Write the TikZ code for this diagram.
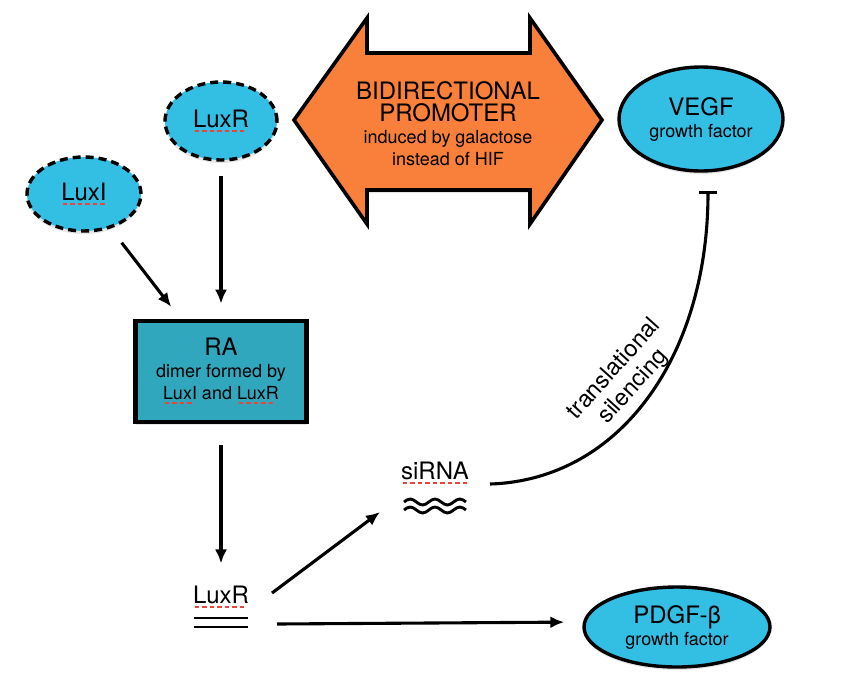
\documentclass[tikz,border=0pt]{standalone}
\usepackage{fontspec}
\setmainfont{TeX Gyre Heros}
\usetikzlibrary{arrows.meta}
\usetikzlibrary{shapes.geometric}
\usetikzlibrary{shadows}
\usetikzlibrary{positioning}
\definecolor{cellblue}{HTML}{33BEE3}
\definecolor{dimerteal}{HTML}{31A7BD}
\definecolor{promorange}{HTML}{F9803A}
\definecolor{spellred}{HTML}{E8453C}
\newcommand{\bigtext}[1]{{\fontsize{24}{28}\selectfont #1}}
\newcommand{\spellmark}[1]{\setbox0=\hbox{#1}\rlap{\color{spellred}\raisebox{-4.5pt}{\hbox to \wd0{\leaders\hbox to 7.5pt{\hss\vrule width 4.5pt height 2pt depth 0pt\hss}\hfill}}}\box0\relax}
\begin{document}
\begin{tikzpicture}[x=1pt,y=-1pt,>={Latex[length=14pt,width=12pt]},
		every node/.style={font=\fontsize{18}{22}\selectfont},
		factor/.style={draw=black,
				ellipse,
				line width=3.4pt,
				fill=cellblue,
				align=center,
				drop shadow={opacity=0.2,shadow xshift=0pt,shadow yshift=-3pt}},
		luxgene/.style={factor,dash pattern=on 8pt off 5pt},
		dimer/.style={draw=black,
				rectangle,
				line width=4.2pt,
				fill=dimerteal,
				minimum width=171pt,
				minimum height=101pt,
				align=center,
				drop shadow={opacity=0.2,shadow xshift=0pt,shadow yshift=-3pt}},
		link/.style={->,line width=3.1pt},
		wave/.style={line width=2.9pt}]
			\useasboundingbox (0,0) rectangle (843,686);
			% promoter double arrow
			\draw[line width=3.6pt,fill=promorange,line join=miter,drop shadow={opacity=0.2,shadow xshift=0pt,shadow yshift=-3pt}] (294,120) -- (367,18) -- (367,53) -- (530,53) -- (530,18) -- (602,120) -- (530,224) -- (530,190) -- (367,190) -- (367,224) -- cycle;
			\node[align=center] (promoter) at (448,124) {\bigtext{BIDIRECTIONAL}\\\bigtext{PROMOTER}\\induced by galactose\\instead of HIF};
			\node[factor,minimum width=164pt,minimum height=104pt] (vegf) at (701,119) {\bigtext{VEGF}\\growth factor};
			\node[luxgene,minimum width=112pt,minimum height=78pt] (luxr) at (221,121) {\bigtext{\spellmark{LuxR}}};
			\node[luxgene,minimum width=114pt,minimum height=74pt] (luxi) at (84,194) {\bigtext{\spellmark{LuxI}}};
			\node[dimer,below=157pt of luxr] (ra) {\bigtext{RA}\\dimer formed by\\\spellmark{LuxI} and \spellmark{LuxR}};
			\node (luxrb) at (221,597) {\bigtext{\spellmark{LuxR}}};
			\node (sirna) at (435,473) {\bigtext{\spellmark{siRNA}}};
			\node[factor,minimum width=186pt,minimum height=80pt] (pdgf) at (677,627) {\bigtext{PDGF-β}\\growth factor};
			\node[rotate=48,align=center,font=\fontsize{23.5}{26}\selectfont] (silencing) at (624,378) {translational\\silencing};
			% double strand and waves
			\draw[wave] ([xshift=-27pt,yshift=-21pt]luxrb.center) -- ++(54,0);
			\draw[wave] ([xshift=-27pt,yshift=-30pt]luxrb.center) -- ++(54,0);
			\draw[wave] ([xshift=-31pt,yshift=-29pt]sirna.center) sin ++(6.2,-3) cos ++(6.2,3) sin ++(6.2,3) cos ++(6.2,-3) sin ++(6.2,-3) cos ++(6.2,3) sin ++(6.2,3) cos ++(6.2,-3) sin ++(6.2,-3) cos ++(6.2,3);
			\draw[wave] ([xshift=-31pt,yshift=-37pt]sirna.center) sin ++(6.2,-3) cos ++(6.2,3) sin ++(6.2,3) cos ++(6.2,-3) sin ++(6.2,-3) cos ++(6.2,3) sin ++(6.2,3) cos ++(6.2,-3) sin ++(6.2,-3) cos ++(6.2,3);
			% connectors
			\draw[link,shorten <=14pt,shorten >=15pt] (luxr) -- (ra);
			\draw[link,shorten <=18pt,shorten >=15pt] (luxi) -- (ra);
			\draw[link,shorten <=21pt,shorten >=19pt] (ra) -- (luxrb);
			\draw[link] ([xshift=51pt,yshift=4pt]luxrb.center) -- ([xshift=-55pt,yshift=-39pt]sirna.center);
			\draw[link,shorten >=18pt] ([xshift=56pt,yshift=-27pt]luxrb.center) -- ([yshift=5pt]pdgf.west);
			\draw[line width=3.1pt,-{Bar[width=18pt]}] ([xshift=55pt,yshift=-11pt]sirna.center) .. controls +(130,-4) and +(0,165) .. ([xshift=7pt,yshift=-18pt]vegf.south);
		\end{tikzpicture}
\end{document}
